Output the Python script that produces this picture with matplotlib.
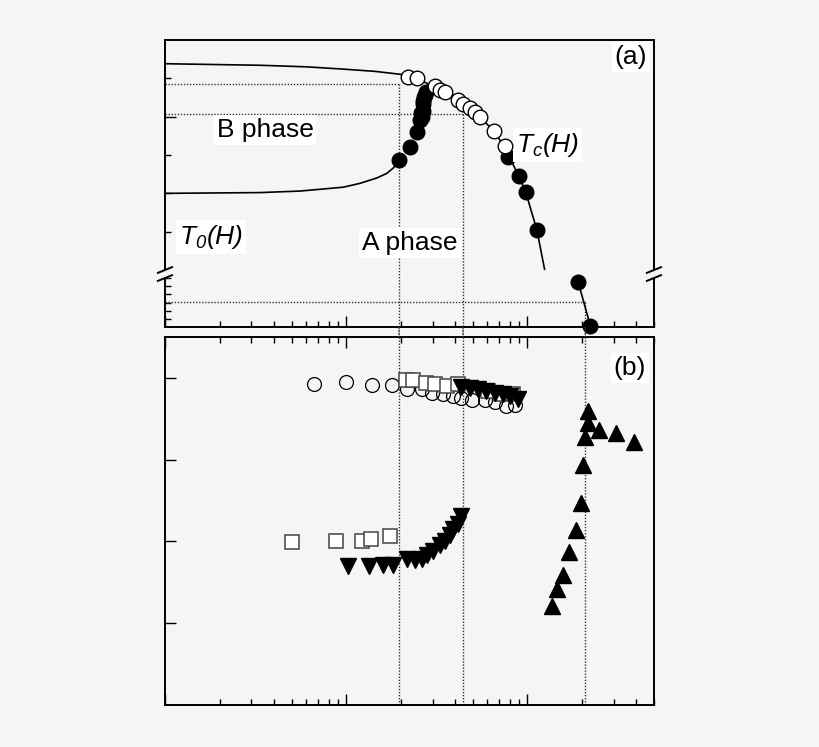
import numpy as np
import matplotlib
matplotlib.use("Agg")
import matplotlib.pyplot as plt
from matplotlib.patches import ConnectionPatch, Rectangle
from matplotlib.lines import Line2D
from matplotlib.ticker import FixedLocator, NullFormatter

plt.rcParams['font.family'] = ['Liberation Sans', 'DejaVu Sans']
plt.rcParams['mathtext.fontset'] = 'custom'
plt.rcParams['mathtext.rm'] = 'Liberation Sans:italic'
plt.rcParams['mathtext.it'] = 'Liberation Sans:italic'

BG = '#f5f5f5'

# ---- panel (a): phase boundaries, T vs H (broken T axis) ----
# upper boundary / Tc(H) line
tc_line_h = [0.101, 0.336, 0.60, 0.963, 1.45, 2.03, 2.45, 3.29, 4.42, 5.46, 6.55, 7.50, 8.99, 9.79, 11.3, 12.45]
tc_line_t = [28.69, 28.67, 28.65, 28.62, 28.59, 28.55, 28.50, 28.35, 28.17, 28.00, 27.81, 27.60, 27.22, 27.02, 26.52, 26.01]
# T0(H) line
t0_line_h = [0.101, 0.336, 0.558, 0.963, 1.19, 1.475, 1.675, 1.82, 1.96]
t0_line_t = [27.00, 27.01, 27.03, 27.08, 27.13, 27.20, 27.26, 27.33, 27.43]
# low-T part of Tc(H) below the break
tc_low_h = [19.1, 22.3]
tc_low_t = [11.0, 0.25]

# filled circles: A-phase left boundary and Tc branch
a_fill_h = [1.96, 2.25, 2.47, 2.55, 2.61, 2.64, 2.66, 2.70, 2.76, 2.66, 2.60, 2.72,
            7.82, 8.99, 9.79, 11.3]
a_fill_t = [27.43, 27.61, 27.80, 27.95, 27.99, 28.08, 28.16, 28.25, 28.32, 28.20, 28.05, 28.28,
            27.47, 27.22, 27.02, 26.52]
# open circles on Tc(H)
a_open_h = [2.20, 2.45, 3.09, 3.29, 3.51, 4.15, 4.42, 4.81, 5.13, 5.46, 6.55, 7.50]
a_open_t = [28.52, 28.51, 28.40, 28.35, 28.32, 28.22, 28.17, 28.11, 28.06, 28.00, 27.81, 27.62]

# guide lines: field positions and the temperatures where they stop
guide_h = [1.96, 4.42, 20.9]
guide_t = [28.42, 28.03, 6.07]

# broken-axis knots (lower 0..14, upper 26..29)
t_knots = [-100.0, 14.0, 26.0, 100.0]
p_knots = [-407.1, 57.0, 57.01, 5732.8]

# ---- panel (b) ----
circ_h = [0.661, 1.00, 1.395, 1.784, 2.16, 2.61, 2.96, 3.41, 3.90, 4.33, 4.92, 5.82, 6.61, 7.66, 8.51]
circ_v = [2.93, 2.95, 2.91, 2.91, 2.86, 2.86, 2.82, 2.80, 2.78, 2.75, 2.73, 2.73, 2.70, 2.65, 2.67]

sq_h = [2.14, 2.35, 2.75, 3.09, 3.61, 4.12, 6.07, 7.19, 8.33,
        0.503, 0.881, 1.22, 1.37, 1.75]
sq_v = [2.98, 2.98, 2.94, 2.93, 2.90, 2.92, 2.84, 2.80, 2.80,
        0.99, 1.00, 1.005, 1.035, 1.07]

dn_h = [4.33, 4.81, 5.35, 5.95, 6.61, 7.34, 7.99, 8.88,
        1.02, 1.34, 1.59, 1.82, 2.16, 2.40, 2.61, 2.78, 3.02, 3.29, 3.51, 3.73, 3.90, 4.12, 4.33]
dn_v = [2.89, 2.88, 2.86, 2.84, 2.82, 2.80, 2.78, 2.74,
        0.70, 0.70, 0.71, 0.71, 0.78, 0.775, 0.78, 0.83, 0.885, 0.955, 1.01, 1.08, 1.15, 1.21, 1.31]

up_h = [13.6, 14.6, 15.8, 16.9, 18.6, 19.8, 20.4, 20.9, 21.6, 21.7, 24.8, 30.9, 38.9]
up_v = [0.21, 0.42, 0.59, 0.865, 1.14, 1.475, 1.94, 2.28, 2.45, 2.59, 2.36, 2.32, 2.21]


def fwd(t):
    return np.interp(t, t_knots, p_knots)


def inv(p):
    return np.interp(p, p_knots, t_knots)


fig = plt.figure(figsize=(8.2, 7.47), dpi=100, facecolor=BG)
ax_a = fig.add_axes([0.2012, 0.5622, 0.5963, 0.3843], facecolor=BG)
ax_b = fig.add_axes([0.2012, 0.0562, 0.5963, 0.4927], facecolor=BG)

for ax in (ax_a, ax_b):
    ax.set_xscale('log')
    ax.set_xlim(0.1, 50)
    for s in ax.spines.values():
        s.set_linewidth(1.4)
    ax.tick_params(which='both', direction='in', width=1.0,
                   labelbottom=False, labelleft=False, labeltop=False)
    ax.tick_params(which='major', length=8)
    ax.tick_params(which='minor', length=4.3)
    ax.xaxis.set_minor_formatter(NullFormatter())

ax_a.tick_params(which='both', top=False, right=False, left=True, bottom=True)
ax_b.tick_params(which='both', top=True, right=False, left=True, bottom=True)

# panel (a)
ax_a.set_yscale('function', functions=(fwd, inv))
ax_a.set_ylim(0, 29.0)
ax_a.yaxis.set_major_locator(FixedLocator([28.0]))
ax_a.yaxis.set_minor_locator(FixedLocator([26.5, 27.0, 27.5, 28.5, 2, 4, 6, 8, 10, 12]))
ax_a.yaxis.set_major_formatter(NullFormatter())
ax_a.yaxis.set_minor_formatter(NullFormatter())

dot = dict(color='#333333', lw=1.0, ls=(0, (1, 1.2)), zorder=1)
for h, t in zip(guide_h, guide_t):
    ax_a.plot([0.1, h], [t, t], **dot)
    ax_a.plot([h, h], [t, 0], **dot)
    ax_b.axvline(h, **dot)
    con = ConnectionPatch(xyA=(h, 0), coordsA=ax_a.transData,
                          xyB=(h, 3.5), coordsB=ax_b.transData,
                          color='#333333', lw=1.0, ls=(0, (1, 1.2)))
    fig.add_artist(con)

ax_a.plot(tc_line_h, tc_line_t, color='black', lw=1.2, zorder=2)
ax_a.plot(t0_line_h, t0_line_t, color='black', lw=1.2, zorder=2)
ax_a.plot(tc_low_h, tc_low_t, color='black', lw=1.2, zorder=2, clip_on=False)
ax_a.plot(a_fill_h, a_fill_t, 'o', ms=10.5, mfc='black', mec='black', zorder=3, clip_on=False)
ax_a.plot(tc_low_h, tc_low_t, 'o', ms=10.5, mfc='black', mec='black', zorder=5, clip_on=False)
ax_a.plot(a_open_h, a_open_t, 'o', ms=10.5, mfc='white', mec='black', mew=1.0, zorder=4)

txt = dict(fontsize=19, ha='center', va='center', transform=ax_a.transAxes,
           bbox=dict(facecolor='white', edgecolor='none', pad=2))
ax_a.text(0.2045, 0.686, 'B phase', **txt)
ax_a.text(0.501, 0.293, 'A phase', **txt)
ax_a.text(0.094, 0.314, r'$T_0(H)$', **txt)
ax_a.text(0.783, 0.634, r'$T_c(H)$', **txt)
ax_a.text(0.953, 0.941, '(a)', **txt)

# break marks on both sides of panel (a)
for xs in (0.0, 1.0):
    ax_a.add_patch(Rectangle((xs - 0.006, 0.172), 0.012, 0.026, transform=ax_a.transAxes,
                             facecolor=BG, edgecolor='none', clip_on=False, zorder=6))
    for yc in (0.1986, 0.1707):
        ax_a.add_line(Line2D([xs - 0.0145, xs + 0.0145], [yc - 0.01, yc + 0.01],
                             transform=ax_a.transAxes, color='black', lw=1.4,
                             clip_on=False, zorder=7))

# panel (b)
ax_b.set_ylim(-1.0, 3.5)
ax_b.yaxis.set_major_locator(FixedLocator([0, 1, 2, 3]))
ax_b.yaxis.set_minor_locator(FixedLocator([]))
ax_b.plot(circ_h, circ_v, 'o', ms=10, mfc='none', mec='black', mew=0.9, zorder=3)
ax_b.plot(sq_h, sq_v, 's', ms=10.5, mfc='white', mec='#444444', mew=1.1, zorder=4)
ax_b.plot(dn_h, dn_v, 'v', ms=11, mfc='black', mec='black', zorder=5)
ax_b.plot(up_h, up_v, '^', ms=11, mfc='black', mec='black', zorder=5)
ax_b.text(0.951, 0.916, '(b)', fontsize=19, ha='center', va='center',
          transform=ax_b.transAxes,
          bbox=dict(facecolor='white', edgecolor='none', pad=2))

fig.savefig('out.png', dpi=100, facecolor=BG)
